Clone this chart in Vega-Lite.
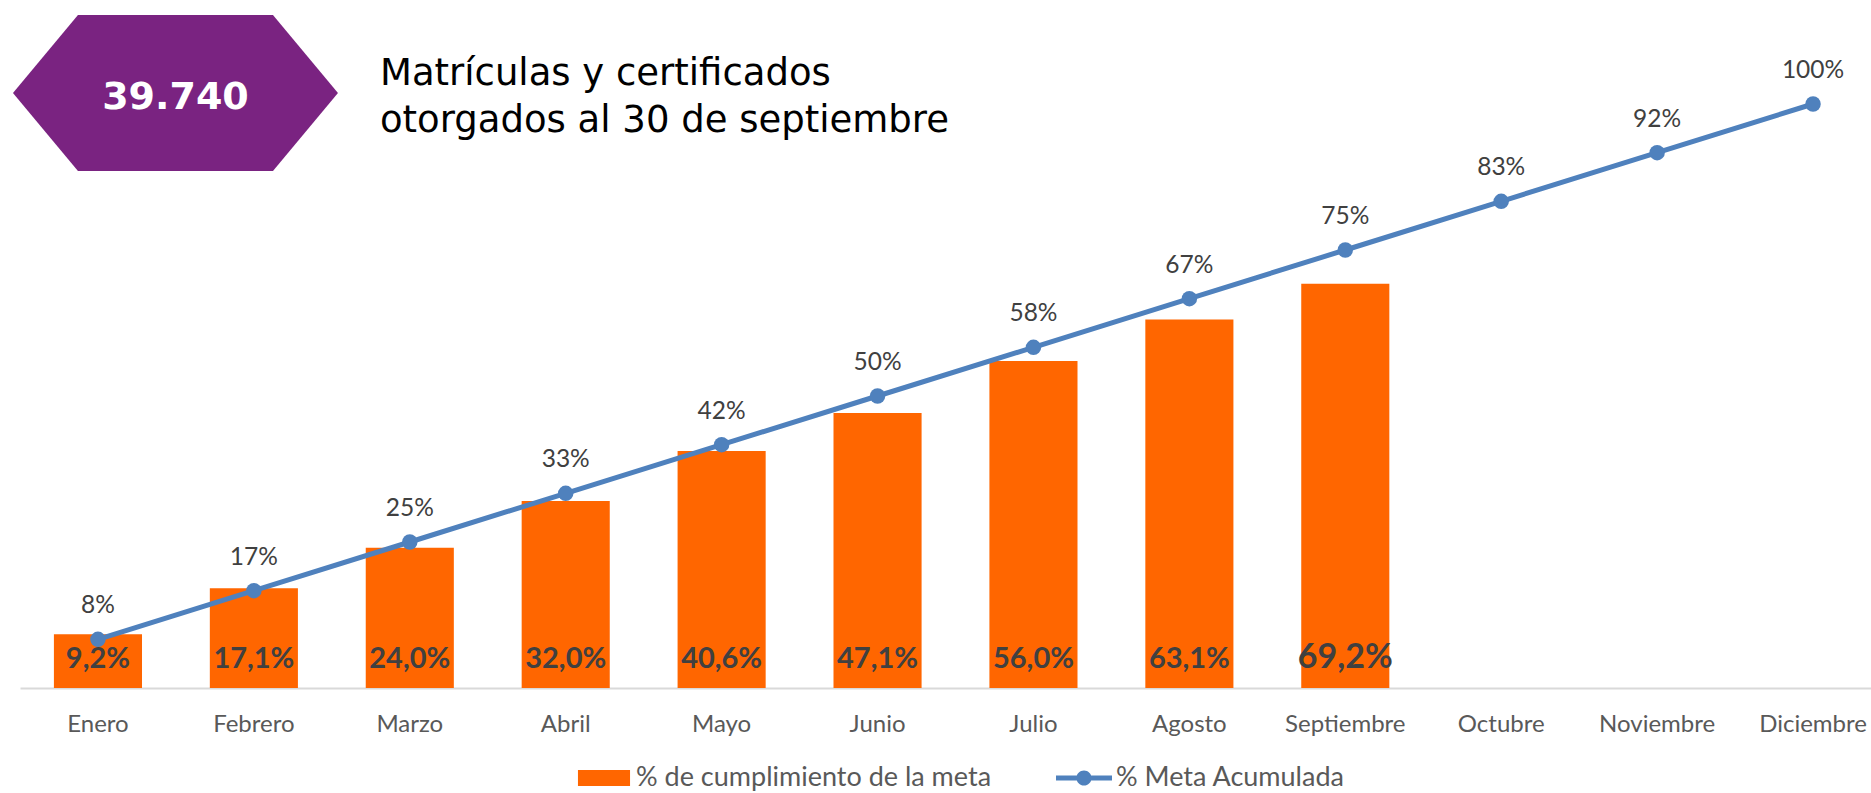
{
  "$schema": "https://vega.github.io/schema/vega-lite/v6.json",
  "autosize": {"type": "none"},
  "padding": {"left": 20, "top": 104, "right": 0, "bottom": 105},
  "width": 1851,
  "height": 584,
  "background": "white",
  "config": {
    "view": {"stroke": null},
    "locale": {"number": {"decimal": ",", "thousands": ".", "grouping": [3], "currency": ["$", ""]}},
    "legend": {
      "orient": "none",
      "legendX": 556,
      "legendY": 646,
      "direction": "horizontal",
      "title": null,
      "padding": 0,
      "symbolSize": 3136,
      "labelFont": "Lato",
      "labelFontSize": 27,
      "labelColor": "#595959",
      "labelOffset": 4,
      "labelLimit": 0,
      "columnPadding": 64
    }
  },
  "data": {
    "values": [
      {"mes": "Enero", "cumplimiento": 0.092, "meta": 0.0833},
      {"mes": "Febrero", "cumplimiento": 0.171, "meta": 0.1667},
      {"mes": "Marzo", "cumplimiento": 0.240, "meta": 0.25},
      {"mes": "Abril", "cumplimiento": 0.320, "meta": 0.3333},
      {"mes": "Mayo", "cumplimiento": 0.406, "meta": 0.4167},
      {"mes": "Junio", "cumplimiento": 0.471, "meta": 0.5},
      {"mes": "Julio", "cumplimiento": 0.560, "meta": 0.5833},
      {"mes": "Agosto", "cumplimiento": 0.631, "meta": 0.6667},
      {"mes": "Septiembre", "cumplimiento": 0.692, "meta": 0.75},
      {"mes": "Octubre", "cumplimiento": null, "meta": 0.8333},
      {"mes": "Noviembre", "cumplimiento": null, "meta": 0.9167},
      {"mes": "Diciembre", "cumplimiento": null, "meta": 1.0}
    ]
  },
  "encoding": {
    "x": {
      "field": "mes",
      "type": "nominal",
      "sort": null,
      "scale": {"range": [0, 1871], "paddingInner": 0.435, "paddingOuter": 0.2175},
      "axis": {
        "title": null,
        "ticks": false,
        "tickSize": 0,
        "labelAngle": 0,
        "labelFont": "Lato",
        "labelFontSize": 24,
        "labelColor": "#595959",
        "labelBaseline": "alphabetic",
        "labelPadding": 43,
        "labelLimit": 0,
        "domainColor": "#d9d9d9",
        "domainWidth": 2,
        "grid": false
      }
    }
  },
  "layer": [
    {
      "mark": {"type": "bar", "opacity": 1},
      "encoding": {
        "y": {"field": "cumplimiento", "type": "quantitative", "scale": {"domain": [0, 1]}, "axis": null},
        "color": {
          "datum": "% de cumplimiento de la meta",
          "type": "nominal",
          "scale": {"domain": ["% de cumplimiento de la meta", "% Meta Acumulada"], "range": ["#FF6600", "#4F81BD"]},
          "legend": {
            "encode": {
              "symbols": {
                "update": {
                  "shape": {"signal": "datum.value === '% Meta Acumulada' ? 'M-1,-0.09H1V0.09H-1Z M-0.27,0A0.27,0.27 0 1,1 0.27,0A0.27,0.27 0 1,1 -0.27,0Z' : 'M-0.93,-0.286H0.93V0.286H-0.93Z'"},
                  "fill": {"signal": "datum.value === '% Meta Acumulada' ? '#4F81BD' : '#FF6600'"},
                  "stroke": {"value": "transparent"},
                  "strokeWidth": {"value": 0},
                  "opacity": {"value": 1},
                  "fillOpacity": {"value": 1}
                }
              }
            }
          }
        }
      }
    },
    {
      "mark": {"type": "line", "strokeWidth": 5, "point": {"filled": true, "size": 240, "opacity": 1}},
      "encoding": {
        "y": {"field": "meta", "type": "quantitative", "scale": {"domain": [0, 1]}, "axis": null},
        "color": {
          "datum": "% Meta Acumulada",
          "type": "nominal",
          "legend": {
            "encode": {
              "symbols": {
                "update": {
                  "shape": {"signal": "datum.value === '% Meta Acumulada' ? 'M-1,-0.09H1V0.09H-1Z M-0.27,0A0.27,0.27 0 1,1 0.27,0A0.27,0.27 0 1,1 -0.27,0Z' : 'M-0.93,-0.286H0.93V0.286H-0.93Z'"},
                  "fill": {"signal": "datum.value === '% Meta Acumulada' ? '#4F81BD' : '#FF6600'"},
                  "stroke": {"value": "transparent"},
                  "strokeWidth": {"value": 0},
                  "opacity": {"value": 1},
                  "fillOpacity": {"value": 1}
                }
              }
            }
          }
        }
      }
    },
    {
      "transform": [{"filter": "isValid(datum.cumplimiento)"}],
      "mark": {"type": "text", "font": "Lato", "fontWeight": "bold", "color": "#404040", "baseline": "alphabetic", "align": "center", "dy": -20},
      "encoding": {
        "y": {"datum": 0, "type": "quantitative"},
        "text": {"field": "cumplimiento", "type": "quantitative", "format": ".1%"},
        "size": {"condition": {"test": "datum.mes === 'Septiembre'", "value": 34}, "value": 29}
      }
    },
    {
      "mark": {"type": "text", "font": "Lato", "fontSize": 24.5, "color": "#404040", "baseline": "alphabetic", "align": "center", "dy": -26},
      "encoding": {
        "y": {"field": "meta", "type": "quantitative"},
        "text": {"field": "meta", "type": "quantitative", "format": ".0%"}
      }
    },
    {
      "data": {"values": [{"valor": "39.740"}]},
      "mark": {"type": "point", "filled": true, "opacity": 1, "color": "#7A2381", "size": 40000,
        "shape": "M-0.85,-0.11L-0.2,-0.89L1.75,-0.89L2.4,-0.11L1.75,0.67L-0.2,0.67Z"},
      "encoding": {
        "x": {"datum": "Enero"},
        "y": {"datum": 1, "type": "quantitative"}
      }
    },
    {
      "data": {"values": [{"valor": "39.740"}]},
      "mark": {"type": "text", "font": "DejaVu Sans", "fontWeight": "bold", "fontSize": 38, "color": "white", "align": "center", "baseline": "alphabetic", "dx": 77.5, "dy": 5},
      "encoding": {
        "x": {"datum": "Enero"},
        "y": {"datum": 1, "type": "quantitative"},
        "text": {"field": "valor"}
      }
    },
    {
      "data": {"values": [{"titulo": "Matrículas y certificados\notorgados al 30 de septiembre"}]},
      "mark": {"type": "text", "font": "DejaVu Sans", "fontSize": 37, "color": "#000000", "align": "left", "baseline": "alphabetic", "lineBreak": "\n", "lineHeight": 47, "dx": 282, "dy": -19},
      "encoding": {
        "x": {"datum": "Enero"},
        "y": {"datum": 1, "type": "quantitative"},
        "text": {"field": "titulo"}
      }
    }
  ]
}
